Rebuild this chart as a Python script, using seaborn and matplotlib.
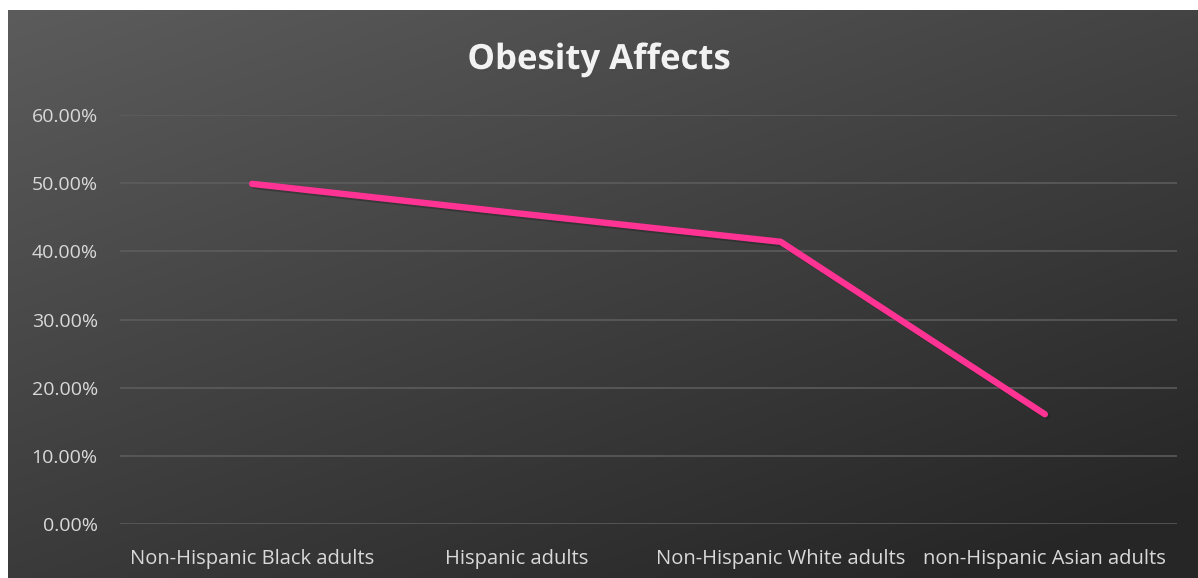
import matplotlib.pyplot as plt
import matplotlib.patheffects as pe
from matplotlib.ticker import FuncFormatter
import seaborn as sns
import numpy as np
import pandas as pd

groups = ["Non-Hispanic Black adults", "Hispanic adults",
          "Non-Hispanic White adults", "non-Hispanic Asian adults"]
obesity = [0.499, 0.456, 0.414, 0.161]

df = pd.DataFrame({"group": groups, "rate": obesity})

sns.set_theme(style="dark")
plt.rcParams['font.family'] = ['Open Sans', 'DejaVu Sans']

W, H = 1198, 578
fig = plt.figure(figsize=(W / 100, H / 100), dpi=100)
fig.patch.set_facecolor("white")

# gradient background panel (light top-left -> dark bottom-right)
bg = fig.add_axes([8 / W, 0, 1 - 8 / W, 1 - 10 / H])
yy, xx = np.mgrid[0:1:200j, 0:1:400j]
t = np.clip(0.55 * xx + 0.75 * yy, 0, 1.2) / 1.2
shade = 0.36 - 0.21 * t
bg.imshow(np.dstack([shade, shade, shade]), aspect="auto", extent=[0, 1, 0, 1], origin="upper")
bg.set_axis_off()

ax = fig.add_axes([120 / W, 1 - 524 / H, (1177 - 120) / W, (524 - 115) / H])
ax.patch.set_alpha(0)

sns.lineplot(data=df, x="group", y="rate", ax=ax, color="#FF3394", linewidth=4.6,
             solid_capstyle="round", solid_joinstyle="round", sort=False,
             path_effects=[pe.SimpleLineShadow(offset=(1.5, -1.5), alpha=0.35), pe.Normal()])

ax.set_xlim(-0.5, 3.5)
ax.set_ylim(0, 0.6)
ax.set_yticks(np.arange(0, 0.61, 0.1))
ax.yaxis.set_major_formatter(FuncFormatter(lambda v, p: f"{v * 100:.2f}%"))
ax.grid(axis="y", color="#5e5e5e", linewidth=1.1)
ax.grid(axis="x", visible=False)
for s in ax.spines.values():
    s.set_visible(False)
ax.tick_params(axis="y", colors="#d9d9d9", labelsize=14, pad=16, length=0)
ax.tick_params(axis="x", colors="#d9d9d9", labelsize=14.5, pad=18, length=0)
ax.set_xlabel("")
ax.set_ylabel("")

fig.text(0.5, 1 - 60 / H, "Obesity Affects",
         ha="center", va="center", fontsize=25, fontweight="bold", color="#f2f2f2",
         path_effects=[pe.withSimplePatchShadow(offset=(1, -1.5), alpha=0.4)])

plt.savefig("out.png", dpi=100)
